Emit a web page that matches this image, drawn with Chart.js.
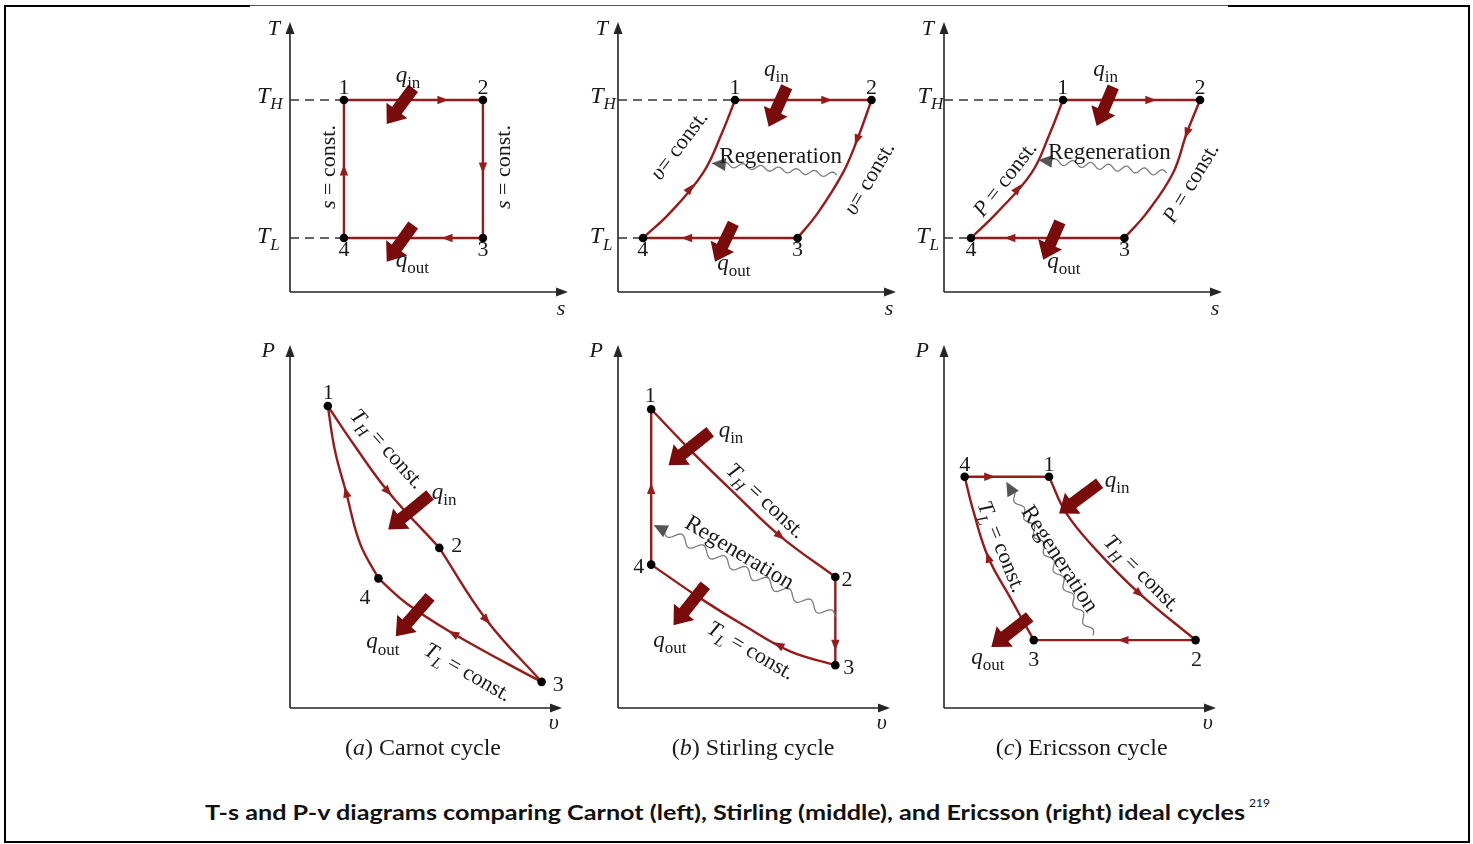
<!DOCTYPE html>
<html>
<head>
<meta charset="utf-8">
<title>T-s and P-v diagrams</title>
<script src="https://cdn.jsdelivr.net/npm/chart.js@4.4.1/dist/chart.umd.min.js"></script>
<style>
html,body{margin:0;padding:0;background:#fff;}
body{width:1473px;height:844px;position:relative;overflow:hidden;}
canvas.panel{position:absolute;}
#frame{position:absolute;left:4px;top:5px;width:1466px;height:838px;box-sizing:border-box;border:2px solid #000;}
#frameGap{position:absolute;left:250px;top:4px;width:978px;height:4px;background:#fff;}
#frameThin{position:absolute;left:250px;top:5px;width:978px;height:1px;background:#555;}
#title{position:absolute;left:205px;top:799px;white-space:nowrap;font-family:Lato,"Open Sans",sans-serif;font-weight:700;font-size:21px;line-height:26px;color:#111;transform-origin:0 0;}
#sup{position:absolute;left:1249px;top:795px;font-family:Lato,"Open Sans",sans-serif;font-size:12px;color:#111;}
</style>
</head>
<body>
<div id="frame"></div>
<div id="frameGap"></div>
<div id="frameThin"></div>
<canvas class="panel" id="c1" width="340" height="330" style="left:235px;top:0px"></canvas>
<canvas class="panel" id="c2" width="340" height="330" style="left:563px;top:0px"></canvas>
<canvas class="panel" id="c3" width="340" height="330" style="left:889px;top:0px"></canvas>
<canvas class="panel" id="c4" width="340" height="440" style="left:235px;top:330px"></canvas>
<canvas class="panel" id="c5" width="340" height="440" style="left:563px;top:330px"></canvas>
<canvas class="panel" id="c6" width="340" height="440" style="left:889px;top:330px"></canvas>
<div id="title">T-s and P-v diagrams comparing Carnot (left), Stirling (middle), and Ericsson (right) ideal cycles</div>
<div id="sup">219</div>
<script>
// ================= DATA (chart units, axes run 0..10) =================
// T-s diagrams: [s, T]; states listed in order 1,2,3,4
const carnotTsState   = [[1.94,7.11],[6.94,7.11],[6.94,2.00],[1.94,2.00]];
const stirlingTsState = [[4.21,7.11],[9.12,7.11],[6.46,2.00],[0.90,2.00]];
const stirlingTs23    = [[9.12,7.11],[8.60,5.63],[8.09,4.41],[7.19,2.93],[6.46,2.00]];
const stirlingTs41    = [[0.90,2.00],[1.87,2.93],[3.06,4.41],[3.74,5.89],[4.21,7.11]];
const ericssonTsState = [[4.28,7.11],[9.21,7.11],[6.49,2.00],[0.97,2.00]];
const ericssonTs23    = [[9.21,7.11],[8.73,5.88],[8.24,4.41],[7.29,2.93],[6.49,2.00]];
const ericssonTs41    = [[0.97,2.00],[1.90,2.93],[3.15,4.41],[3.81,5.88],[4.28,7.11]];

// P-v diagrams: [v, P]; states in order 1,2,3,4
const carnotPvState   = [[1.39,8.32],[5.49,4.41],[9.25,0.72],[3.25,3.57]];
const carnotPv12      = [[1.39,8.32],[2.39,7.21],[3.61,5.96],[5.49,4.41]];
const carnotPv23      = [[5.49,4.41],[7.23,2.42],[9.25,0.72]];
const carnotPv34      = [[9.25,0.72],[7.97,1.23],[6.00,2.05],[4.29,2.88],[3.25,3.57]];
const carnotPv41      = [[3.25,3.57],[2.57,4.54],[2.06,5.95],[1.65,7.10],[1.39,8.32]];
const stirlingPvState = [[1.22,8.23],[7.99,3.61],[7.99,1.18],[1.22,3.95]];
const stirlingPv12    = [[1.22,8.23],[2.77,7.02],[4.39,5.84],[5.97,4.73],[7.99,3.61]];
const stirlingPv34    = [[7.99,1.18],[6.33,1.56],[4.68,2.25],[3.03,3.02],[1.22,3.95]];
const ericssonPvState = [[3.86,6.37],[9.25,1.87],[3.30,1.87],[0.76,6.37]];
const ericssonPv12    = [[3.86,6.37],[4.50,5.36],[5.60,4.35],[7.19,3.15],[9.25,1.87]];
const ericssonPv34    = [[3.30,1.87],[2.42,3.06],[1.62,4.16],[1.07,5.45],[0.76,6.37]];

// direction arrows on the process lines: [x, y, dx, dy]
const carnotTsFlow   = [[5.50,7.11,1,0],[6.94,4.59,0,-1],[5.65,2.00,-1,0],[1.94,4.52,0,1]];
const stirlingTsFlow = [[7.51,7.11,1,0],[8.59,5.63,-0.35,-1],[2.47,2.00,-1,0],[2.60,3.84,0.8,1]];
const ericssonTsFlow = [[7.44,7.11,1,0],[8.73,5.88,-0.35,-1],[2.37,2.00,-1,0],[2.66,3.83,0.8,1]];
const carnotPvFlow   = [[3.61,5.96,1,-0.82],[7.23,2.42,1,-0.85],[6.00,2.05,-1,0.42],[2.06,5.95,-0.33,1]];
const stirlingPvFlow = [[5.97,4.73,1,-0.62],[7.99,1.73,0,-1],[5.90,1.74,-1,0.42],[1.22,6.05,0,1]];
const ericssonPvFlow = [[1.68,6.37,1,0],[7.19,3.15,1,-0.63],[6.58,1.87,-1,0],[1.62,4.16,-0.43,1]];

// heat transfer arrows (q_in, q_out): [tailX, tailY, tipX, tipY]
const carnotTsHeat   = [[4.43,7.54,3.48,6.22],[4.43,2.48,3.48,1.12]];
const stirlingTsHeat = [[6.07,7.60,5.42,6.12],[4.15,2.54,3.49,1.12]];
const ericssonTsHeat = [[6.09,7.60,5.49,6.15],[4.17,2.60,3.57,1.19]];
const carnotPvHeat   = [[5.15,5.87,3.61,4.92],[5.15,3.06,3.89,1.98]];
const stirlingPvHeat = [[3.39,7.61,1.86,6.69],[3.21,3.38,2.04,2.28]];
const ericssonPvHeat = [[5.72,6.19,4.23,5.36],[3.15,2.51,1.74,1.68]];

// regeneration wavy arrows: [startX, startY, tipX, tipY]
const stirlingTsRegen = [7.87,4.33,3.37,4.77];
const ericssonTsRegen = [8.01,4.40,3.39,4.89];
const stirlingPvRegen = [7.99,2.51,1.31,5.04];
const ericssonPvRegen = [5.48,2.00,2.29,6.23];

// text pieces
const qIn  = [['q','i'],['in','s']];
const qOut = [['q','i'],['out','s']];
const tH   = [['T','i'],['H','si']];
const tL   = [['T','i'],['L','si']];
const tHc  = [['T','i'],['H','si'],[' = const.','r']];
const tLc  = [['T','i'],['L','si'],[' = const.','r']];
const sC   = [['s','i'],[' = const.','r']];
const vC   = [['υ','i'],['= const.','r']];
const pC   = [['P','i'],[' = const.','r']];
const regenTxt = [['Regeneration','r']];
const n = k => [[String(k),'r']];
// label: [x, y, parts, size, align('c' centre / 'l' left-baseline / 'b' centre-baseline), rotation deg]
const carnotTsLabels = [
  [-0.58,9.80,[['T','i']],22,'c',0],[9.75,-0.60,[['s','i']],22,'c',0],
  [-1.19,7.00,tH,24,'l',0],[-1.19,1.81,tL,24,'l',0],
  [1.94,7.60,n(1),22,'c',0],[6.94,7.60,n(2),22,'c',0],[6.94,1.60,n(3),22,'c',0],[1.94,1.60,n(4),22,'c',0],
  [3.80,7.79,qIn,23,'l',0],[3.80,0.94,qOut,23,'l',0],
  [1.37,4.63,sC,22,'c',-90],[7.67,4.63,sC,22,'c',-90]
];
const stirlingTsLabels = [
  [-0.58,9.80,[['T','i']],22,'c',0],[9.75,-0.60,[['s','i']],22,'c',0],
  [-1.00,7.00,tH,24,'l',0],[-1.02,1.81,tL,24,'l',0],
  [4.21,7.62,n(1),22,'c',0],[9.12,7.62,n(2),22,'c',0],[6.46,1.62,n(3),22,'c',0],[0.89,1.62,n(4),22,'c',0],
  [5.25,8.00,qIn,23,'l',0],[3.57,0.81,qOut,23,'l',0],
  [2.18,5.45,vC,22,'c',-53],[9.02,4.22,vC,22,'c',-60],
  [5.85,5.07,regenTxt,23,'c',0]
];
const ericssonTsLabels = [
  [-0.58,9.80,[['T','i']],22,'c',0],[9.75,-0.60,[['s','i']],22,'c',0],
  [-0.95,7.00,tH,24,'l',0],[-1.00,1.81,tL,24,'l',0],
  [4.27,7.62,n(1),22,'c',0],[9.21,7.62,n(2),22,'c',0],[6.49,1.62,n(3),22,'c',0],[0.97,1.62,n(4),22,'c',0],
  [5.37,8.00,qIn,23,'l',0],[3.71,0.88,qOut,23,'l',0],
  [2.18,4.20,pC,22,'c',-52],[8.86,4.05,pC,22,'c',-59],
  [5.95,5.20,regenTxt,23,'c',0]
];
const carnotPvLabels = [
  [-0.80,9.86,[['P','i']],22,'c',0],[9.70,-0.39,[['υ','i']],22,'c',0],
  [1.41,8.71,n(1),22,'c',0],[6.13,4.49,n(2),22,'c',0],[9.86,0.67,n(3),22,'c',0],[2.76,3.06,n(4),22,'c',0],
  [5.21,5.77,qIn,23,'l',0],[2.80,1.64,qOut,23,'l',0],
  [3.60,7.15,tHc,22,'c',48],[6.55,1.00,tLc,22,'c',30],
  [4.89,-1.30,[['(','r'],['a','i'],[') Carnot cycle','r']],23.5,'b',0]
];
const stirlingPvLabels = [
  [-0.80,9.86,[['P','i']],22,'c',0],[9.70,-0.39,[['υ','i']],22,'c',0],
  [1.19,8.62,n(1),22,'c',0],[8.42,3.57,n(2),22,'c',0],[8.48,1.13,n(3),22,'c',0],[0.76,3.93,n(4),22,'c',0],
  [3.70,7.47,qIn,23,'l',0],[1.30,1.68,qOut,23,'l',0],
  [5.45,5.72,tHc,22,'c',43],[4.48,4.30,regenTxt,23,'c',31],[4.90,1.60,tLc,22,'c',30],
  [4.97,-1.30,[['(','r'],['b','i'],[') Stirling cycle','r']],23.5,'b',0]
];
const ericssonPvLabels = [
  [-0.80,9.86,[['P','i']],22,'c',0],[9.70,-0.39,[['υ','i']],22,'c',0],
  [3.86,6.74,n(1),22,'c',0],[9.28,1.36,n(2),22,'c',0],[3.30,1.36,n(3),22,'c',0],[0.76,6.74,n(4),22,'c',0],
  [5.91,6.09,qIn,23,'l',0],[1.00,1.22,qOut,23,'l',0],
  [7.30,3.72,tHc,22,'c',45],[4.28,4.12,regenTxt,23,'c',57],[2.13,4.45,tLc,22,'c',68],
  [5.06,-1.30,[['(','r'],['c','i'],[') Ericsson cycle','r']],23.5,'b',0]
];

// ================= STYLE / LAYOUT =================
const RED = '#961c1c', HEAT = '#7a0b0b', INK = '#262626';
const SERIF = '"Liberation Serif","DejaVu Serif",serif';
const TS_PAD = {left:55, top:22, right:7, bottom:38};
const PV_PAD = {left:55, top:15, right:13, bottom:62};

const panels = {
  c1:{pad:TS_PAD, states:carnotTsState, curves:{}, dashed:true, flow:carnotTsFlow, heat:carnotTsHeat, regen:null, labels:carnotTsLabels, wave:[2.5,18]},
  c2:{pad:TS_PAD, states:stirlingTsState, curves:{'23':stirlingTs23,'41':stirlingTs41}, dashed:true, flow:stirlingTsFlow, heat:stirlingTsHeat, regen:stirlingTsRegen, labels:stirlingTsLabels, wave:[2.5,18]},
  c3:{pad:TS_PAD, states:ericssonTsState, curves:{'23':ericssonTs23,'41':ericssonTs41}, dashed:true, flow:ericssonTsFlow, heat:ericssonTsHeat, regen:ericssonTsRegen, labels:ericssonTsLabels, wave:[3,18]},
  c4:{pad:PV_PAD, states:carnotPvState, curves:{'12':carnotPv12,'23':carnotPv23,'34':carnotPv34,'41':carnotPv41}, dashed:false, flow:carnotPvFlow, heat:carnotPvHeat, regen:null, labels:carnotPvLabels, wave:[4,22]},
  c5:{pad:PV_PAD, states:stirlingPvState, curves:{'12':stirlingPv12,'34':stirlingPv34}, dashed:false, flow:stirlingPvFlow, heat:stirlingPvHeat, regen:stirlingPvRegen, labels:stirlingPvLabels, wave:[4.5,24]},
  c6:{pad:PV_PAD, states:ericssonPvState, curves:{'12':ericssonPv12,'34':ericssonPv34}, dashed:false, flow:ericssonPvFlow, heat:ericssonPvHeat, regen:ericssonPvRegen, labels:ericssonPvLabels, wave:[3,20]}
};

function fontFor(style, size){
  const sub = style[0] === 's';
  const ital = style.indexOf('i') >= 0;
  return (ital ? 'italic ' : '') + Math.round(sub ? size*0.72 : size) + 'px ' + SERIF;
}
function drawRich(ctx, x, y, parts, size, align, rot){
  ctx.save();
  ctx.translate(x, y);
  if (rot) ctx.rotate(rot*Math.PI/180);
  ctx.fillStyle = '#1a1a1a';
  ctx.textBaseline = 'alphabetic';
  ctx.textAlign = 'left';
  const widths = parts.map(([t,s]) => { ctx.font = fontFor(s,size); return ctx.measureText(t).width; });
  const total = widths.reduce((a,b)=>a+b,0);
  let cx = align === 'l' ? 0 : -total/2;
  const by = align === 'c' ? size*0.33 : 0;
  parts.forEach(([t,s],i) => {
    ctx.font = fontFor(s,size);
    ctx.fillText(t, cx, by + (s[0]==='s' ? size*0.27 : 0));
    cx += widths[i];
  });
  ctx.restore();
}
function unitDir(chart, x, y, dx, dy){
  const sx = chart.scales.x, sy = chart.scales.y;
  const ux = sx.getPixelForValue(x+dx*0.1) - sx.getPixelForValue(x);
  const uy = sy.getPixelForValue(y+dy*0.1) - sy.getPixelForValue(y);
  const l = Math.hypot(ux,uy) || 1;
  return [ux/l, uy/l];
}
function triangle(ctx, tx, ty, ux, uy, len, hw, color){
  const bx = tx - ux*len, by = ty - uy*len;
  ctx.beginPath();
  ctx.moveTo(tx, ty);
  ctx.lineTo(bx - uy*hw, by + ux*hw);
  ctx.lineTo(bx + uy*hw, by - ux*hw);
  ctx.closePath();
  ctx.fillStyle = color;
  ctx.fill();
}

const diagramPlugin = {
  id:'diagram',
  beforeDatasetsDraw(chart){
    const a = chart.chartArea, ctx = chart.ctx;
    ctx.save();
    ctx.strokeStyle = INK; ctx.lineWidth = 1.6;
    ctx.beginPath();
    ctx.moveTo(a.left, a.bottom); ctx.lineTo(a.right-8, a.bottom);
    ctx.moveTo(a.left, a.bottom); ctx.lineTo(a.left, a.top+8);
    ctx.stroke();
    triangle(ctx, a.right, a.bottom, 1, 0, 12, 4.5, INK);
    triangle(ctx, a.left, a.top, 0, -1, 12, 4.5, INK);
    ctx.restore();
  },
  afterDatasetsDraw(chart){
    const p = panels[chart.canvas.id], ctx = chart.ctx;
    const X = v => chart.scales.x.getPixelForValue(v), Y = v => chart.scales.y.getPixelForValue(v);
    ctx.save();
    p.flow.forEach(([x,y,dx,dy]) => {
      const [ux,uy] = unitDir(chart,x,y,dx,dy);
      triangle(ctx, X(x)+ux*5.5, Y(y)+uy*5.5, ux, uy, 11, 4.2, RED);
    });
    if (p.regen){
      const [x0,y0,x1,y1] = p.regen;
      const sx = X(x0), sy = Y(y0), ex = X(x1), ey = Y(y1);
      const L = Math.hypot(ex-sx, ey-sy), ux = (ex-sx)/L, uy = (ey-sy)/L;
      const [amp, lam] = p.wave;
      ctx.strokeStyle = '#7d7d7d'; ctx.lineWidth = 1.3;
      ctx.beginPath();
      for (let t = 0; t <= L-12; t += 1){
        const off = amp*Math.sin(2*Math.PI*t/lam);
        const px = sx + ux*t - uy*off, py = sy + uy*t + ux*off;
        if (t === 0) ctx.moveTo(px,py); else ctx.lineTo(px,py);
      }
      ctx.stroke();
      triangle(ctx, ex, ey, ux, uy, 14, 6.5, '#555');
    }
    p.heat.forEach(([x0,y0,x1,y1]) => {
      const tx = X(x0), ty = Y(y0), hx = X(x1), hy = Y(y1);
      const L = Math.hypot(hx-tx, hy-ty), ux = (hx-tx)/L, uy = (hy-ty)/L;
      const nx = -uy, ny = ux, sw = 6, hw = 13, hl = 17;
      const bx = hx - ux*hl, by = hy - uy*hl;
      ctx.beginPath();
      ctx.moveTo(tx + nx*sw, ty + ny*sw);
      ctx.lineTo(bx + nx*sw, by + ny*sw);
      ctx.lineTo(bx + nx*hw, by + ny*hw);
      ctx.lineTo(hx, hy);
      ctx.lineTo(bx - nx*hw, by - ny*hw);
      ctx.lineTo(bx - nx*sw, by - ny*sw);
      ctx.lineTo(tx - nx*sw, ty - ny*sw);
      ctx.closePath();
      ctx.fillStyle = HEAT;
      ctx.fill();
    });
    ctx.restore();
  },
  afterDraw(chart){
    const p = panels[chart.canvas.id], ctx = chart.ctx;
    const X = v => chart.scales.x.getPixelForValue(v), Y = v => chart.scales.y.getPixelForValue(v);
    p.labels.forEach(([x,y,parts,size,align,rot]) => drawRich(ctx, X(x), Y(y), parts, size, align, rot));
  }
};

const xy = ([x,y]) => ({x, y});
function buildDatasets(p){
  const ds = [];
  ds.push({data:p.states.map(xy), showLine:false, pointRadius:4.3, pointBackgroundColor:'#000', pointBorderColor:'#000', pointBorderWidth:0, order:0, clip:false});
  for (let i = 0; i < 4; i++){
    const key = String(i+1) + String((i+1)%4+1);
    const curve = p.curves[key];
    const pts = curve || [p.states[i], p.states[(i+1)%4]];
    ds.push({data:pts.map(xy), showLine:true, borderColor:RED, borderWidth:2.4, pointRadius:0, tension:curve?0.4:0, order:1, clip:false});
  }
  if (p.dashed){
    const s1 = p.states[0], s4 = p.states[3];
    ds.push({data:[{x:0,y:s1[1]},xy(s1)], showLine:true, borderColor:'#333', borderWidth:1.5, borderDash:[9,6], pointRadius:0, order:2, clip:false});
    ds.push({data:[{x:0,y:s4[1]},xy(s4)], showLine:true, borderColor:'#333', borderWidth:1.5, borderDash:[9,6], pointRadius:0, order:2, clip:false});
  }
  return ds;
}

Object.keys(panels).forEach(id => {
  const p = panels[id];
  new Chart(document.getElementById(id), {
    type:'scatter',
    data:{datasets:buildDatasets(p)},
    options:{
      responsive:false, animation:false, events:[],
      layout:{padding:p.pad},
      scales:{x:{type:'linear', min:0, max:10, display:false}, y:{type:'linear', min:0, max:10, display:false}},
      plugins:{legend:{display:false}, tooltip:{enabled:false}}
    },
    plugins:[diagramPlugin]
  });
});

const titleEl = document.getElementById('title');
const tw = titleEl.getBoundingClientRect().width;
titleEl.style.transform = 'scaleX(' + (1040/tw) + ')';
</script>
</body>
</html>
